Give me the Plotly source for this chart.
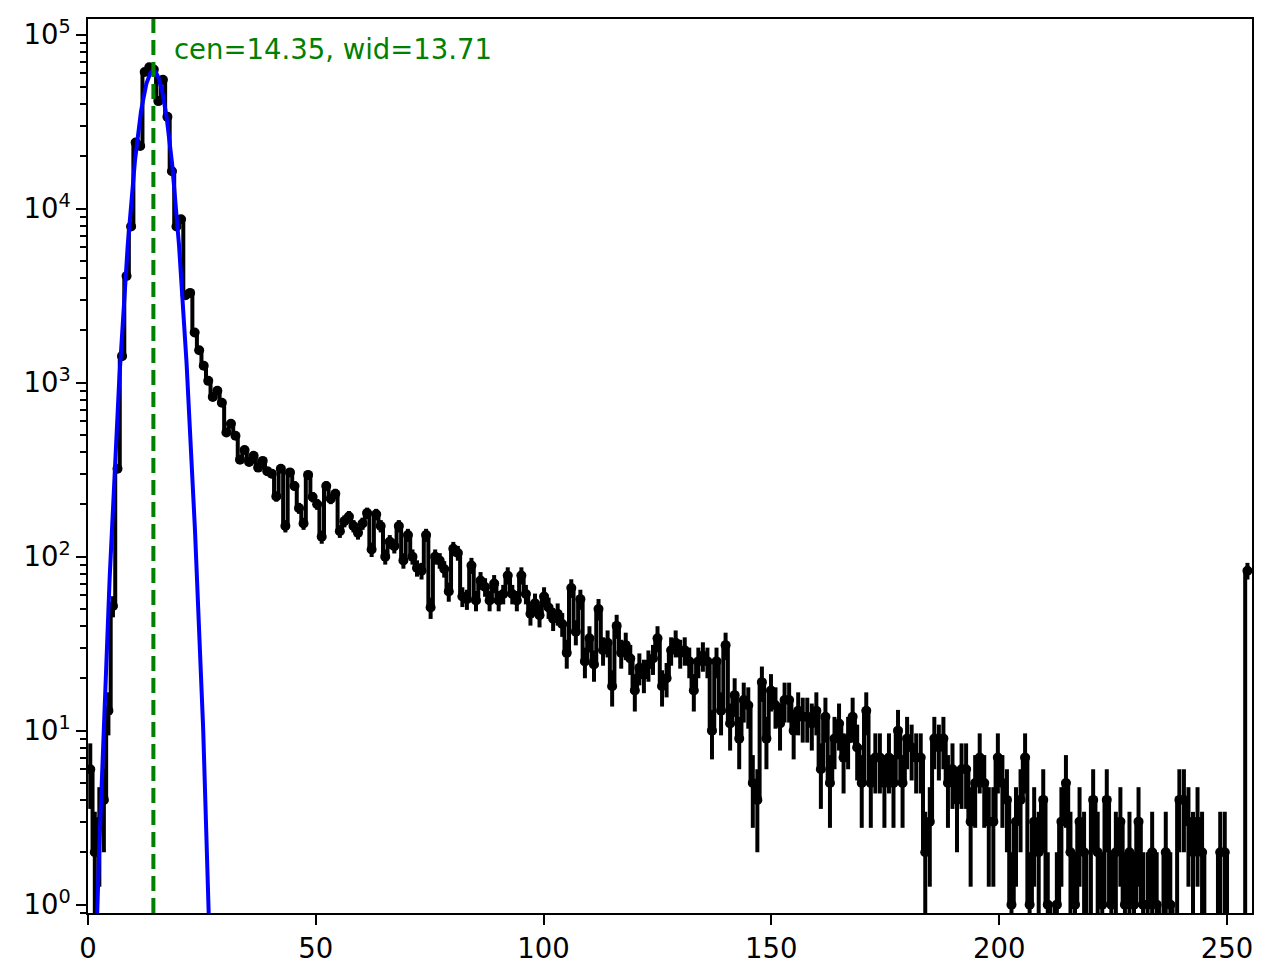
import numpy as np
import plotly.graph_objects as go

# ---- data: histogram counts for 256 bins spanning [0, 255] ----
bin_lo = 0.0
bin_hi = 255.0
counts = [
    6, 2, 3, 4, 13, 52, 320, 1420, 4100, 7900,
    24000, 22900, 61000, 65000, 63000, 41500, 55000, 33700, 16400, 7900,
    8700, 3180, 3280, 1940, 1535, 1250, 1024, 828, 897, 766,
    517, 580, 495, 361, 410, 350, 380, 325, 355, 310,
    300, 222, 320, 150, 305, 255, 190, 155, 295, 220,
    200, 130, 255, 215, 230, 140, 160, 170, 150, 137,
    155, 178, 110, 175, 150, 100, 122, 115, 150, 95,
    133, 100, 86, 83, 133, 51, 100, 95, 85, 63,
    111, 105, 59, 57, 89, 56, 73, 67, 56, 70,
    56, 61, 78, 61, 56, 78, 61, 47, 54, 46,
    59, 51, 44, 47, 41, 28, 66, 37, 57, 25,
    34, 24, 50, 29, 32, 18, 40, 28, 31, 26,
    17, 23, 21, 24, 26, 34, 18, 20, 29, 32,
    28, 29, 25, 17, 25, 27, 25, 10, 25, 13,
    31, 11, 16, 9, 15, 14, 5, 4, 19, 9,
    17, 14, 11, 15, 15, 10, 13, 12, 12, 11,
    13, 6, 12, 5, 9, 11, 7, 9, 12, 8,
    5, 13, 5, 7, 7, 5, 7, 5, 10, 5,
    9, 8, 7, 7, 2, 3, 9, 8, 9, 5,
    6, 4, 6, 6, 3, 5, 7, 5, 3, 3,
    7, 5, 4, 1, 3, 4, 7, 1, 3, 2,
    4, 1, 0, 1, 3, 5, 2, 1, 3, 2,
    0, 4, 2, 1, 4, 1, 2, 3, 1, 2,
    1, 3, 1, 1, 2, 1, 0, 2, 1, 0,
    4, 4, 3, 2, 3, 2, 0, 0, 0, 2,
    2, 0, 0, 0, 0, 83,
]

# ---- fit parameters (Gaussian model) ----
fit_amp = 62000.0
fit_cen = 14.35
fit_wid = 13.71
label_text = "cen=14.35, wid=13.71"

x_ticks = [0, 50, 100, 150, 200, 250]
y_exponents = [0, 1, 2, 3, 4, 5]

# ---- derived ----
counts_arr = np.array(counts, dtype=float)
edges = np.linspace(bin_lo, bin_hi, len(counts) + 1)
centers = 0.5 * (edges[:-1] + edges[1:])
err = np.sqrt(counts_arr)
floor_val = 1e-3
y_plot = np.where(counts_arr > 0, counts_arr, floor_val)
lower = np.maximum(counts_arr - err, floor_val)
err_minus = np.where(counts_arr > 0, y_plot - lower, 0)
err_plus = np.where(counts_arr > 0, err, 0)

xf = np.linspace(0, 255.5, 4000)
yf = fit_amp * np.exp(-((xf - fit_cen) ** 2) / fit_wid)
yf = np.where(yf > 1e-4, yf, np.nan)

fig = go.Figure()
fig.add_trace(go.Scatter(
    x=centers, y=y_plot, mode="lines+markers",
    line=dict(color="black", width=4, shape="hvh"),
    marker=dict(color="black", size=10),
    error_y=dict(type="data", symmetric=False, array=err_plus,
                 arrayminus=err_minus, color="black", thickness=4, width=0),
    showlegend=False,
))
fig.add_trace(go.Scatter(
    x=xf, y=yf, mode="lines", line=dict(color="blue", width=4),
    showlegend=False, connectgaps=False,
))

fig.add_shape(type="line", xref="x", yref="paper", x0=fit_cen, x1=fit_cen,
              y0=0, y1=1, line=dict(color="green", width=4, dash="15px,7px"))

fig.add_annotation(x=fit_cen + 4, xref="x", y=0.967, yref="paper",
                   text=label_text, showarrow=False, xanchor="left",
                   yanchor="middle",
                   font=dict(color="green", size=27.5, family="DejaVu Sans"))

axis_common = dict(
    showline=True, linecolor="black", linewidth=2.2, mirror=True,
    ticks="outside", ticklen=9.7, tickwidth=2.2, tickcolor="black",
    showgrid=False, zeroline=False,
    tickfont=dict(family="DejaVu Sans", size=27.5, color="black"),
)
fig.update_xaxes(range=[0, 255.5], tickvals=x_ticks, **axis_common)
fig.update_yaxes(type="log", range=[-0.048, 5.09],
                 tickvals=[10 ** e for e in y_exponents],
                 ticktext=["10<sup>%d</sup>" % e for e in y_exponents],
                 minor=dict(ticks="outside", ticklen=5.5, tickwidth=1.6,
                            tickcolor="black", dtick="D1", showgrid=False),
                 **axis_common)

fig.update_layout(
    width=1273, height=980,
    margin=dict(l=88, r=21, t=19, b=67),
    plot_bgcolor="white", paper_bgcolor="white",
    font=dict(family="DejaVu Sans"),
)

fig.write_html("out.html", config={"displayModeBar": False},
               post_script="document.body.style.margin='0px';")
